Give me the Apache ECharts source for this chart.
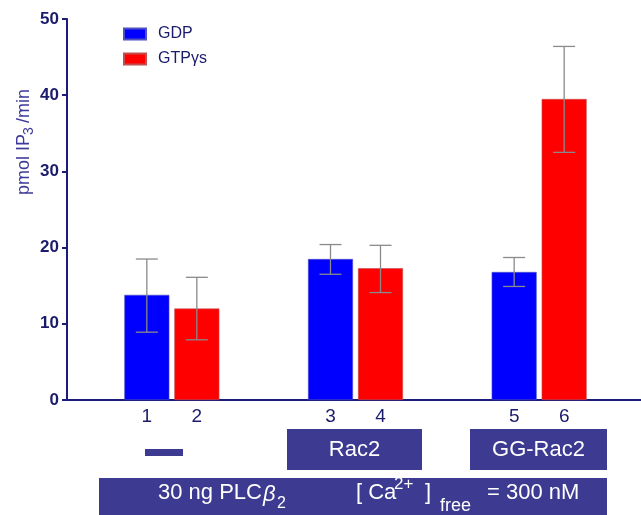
<!DOCTYPE html>
<html>
<head>
<meta charset="utf-8">
<script src="https://cdn.jsdelivr.net/npm/echarts@6/dist/echarts.min.js"></script>
<style>html,body{margin:0;padding:0;background:#fff}#c{width:641px;height:515px}</style>
</head>
<body>
<div id="c"></div>
<script>
const categories = ['PLCβ2', 'Rac2', 'GG-Rac2'];
const seriesNames = ['GDP', 'GTPγs'];
const gdpValues = [13.8, 18.5, 16.8];
const gdpErrLow = [8.9, 16.5, 14.9];
const gdpErrHigh = [18.5, 20.4, 18.7];
const gtpValues = [12.0, 17.3, 39.5];
const gtpErrLow = [7.9, 14.1, 32.5];
const gtpErrHigh = [16.1, 20.3, 46.4];
const gdpLaneLabels = ['1', '3', '5'];
const gtpLaneLabels = ['2', '4', '6'];
const yTicks = [0, 10, 20, 30, 40, 50];
const groupLabels = ['Rac2', 'GG-Rac2'];

const FONT = '"Liberation Sans", Arial, sans-serif';
const NAVY = '#1b1b6b';
const BOX = '#3d3a91';
const BAR_W = 45, BAR_GAP = 5;
const OFF = (BAR_W + BAR_GAP) / 2;

function errSeries(low, high, sign) {
  return {
    type: 'custom',
    xAxisIndex: 0, yAxisIndex: 0,
    z: 5,
    silent: true,
    data: low.map((l, i) => [i, l, high[i]]),
    encode: { x: 0, y: [1, 2] },
    renderItem: function (params, api) {
      const x = api.coord([api.value(0), 0])[0] + sign * OFF;
      const yl = api.coord([api.value(0), api.value(1)])[1];
      const yh = api.coord([api.value(0), api.value(2)])[1];
      const st = { stroke: '#8a8a8a', lineWidth: 1.3 };
      return {
        type: 'group',
        children: [
          { type: 'line', shape: { x1: x, y1: yl, x2: x, y2: yh }, style: st },
          { type: 'line', shape: { x1: x - 11, y1: yh, x2: x + 11, y2: yh }, style: st },
          { type: 'line', shape: { x1: x - 11, y1: yl, x2: x + 11, y2: yl }, style: st }
        ]
      };
    }
  };
}

function laneLabel(arr) {
  return {
    show: true, position: 'bottom', distance: 7,
    color: NAVY, fontSize: 19, fontFamily: FONT,
    formatter: p => arr[p.dataIndex]
  };
}

const txt = (x, y, s, size, extra) => ({
  type: 'text', x: x, y: y, z: 20,
  style: Object.assign({ text: s, fill: '#fff', font: size + 'px ' + FONT, align: 'left', verticalAlign: 'middle' }, extra || {})
});

const chart = echarts.init(document.getElementById('c'), null, { renderer: 'canvas' });
chart.setOption({
  animation: false,
  backgroundColor: '#fff',
  grid: [
    { left: 80, right: 10, top: 19, bottom: 115 },
    { left: 67, right: 0, top: 19, bottom: 115 }
  ],
  legend: {
    data: seriesNames,
    orient: 'vertical',
    left: 123, top: 26,
    itemWidth: 22, itemHeight: 11, itemGap: 9,
    icon: 'rect',
    padding: 0,
    textStyle: { color: NAVY, fontSize: 16, fontFamily: FONT, padding: [0, 0, 0, 7], lineHeight: 16 }
  },
  xAxis: [
    { type: 'category', gridIndex: 0, data: categories, show: false },
    { type: 'value', gridIndex: 1, min: 0, max: 1,
      axisLine: { show: true, lineStyle: { color: '#1c1c7a', width: 2 } },
      axisTick: { show: false }, axisLabel: { show: false }, splitLine: { show: false } }
  ],
  yAxis: [
    { type: 'value', gridIndex: 0, min: 0, max: 50, show: false },
    { type: 'value', gridIndex: 1, min: 0, max: 50, interval: 10,
      axisLine: { show: true, lineStyle: { color: '#1c1c7a', width: 2 } },
      axisTick: { show: true, length: 5, lineStyle: { color: '#1c1c7a', width: 2 } },
      axisLabel: { color: NAVY, fontSize: 17, fontWeight: 'bold', fontFamily: FONT, margin: 8,
        formatter: v => yTicks.indexOf(v) >= 0 ? String(v) : '' },
      splitLine: { show: false } }
  ],
  series: [
    { name: seriesNames[0], type: 'bar', xAxisIndex: 0, yAxisIndex: 0, data: gdpValues,
      barWidth: BAR_W, barGap: (BAR_GAP / BAR_W * 100) + '%',
      itemStyle: { color: '#0000ff', borderColor: '#5050c0', borderWidth: 0.6 },
      label: laneLabel(gdpLaneLabels) },
    { name: seriesNames[1], type: 'bar', xAxisIndex: 0, yAxisIndex: 0, data: gtpValues,
      barWidth: BAR_W,
      itemStyle: { color: '#ff0000', borderColor: '#c05050', borderWidth: 0.6 },
      label: laneLabel(gtpLaneLabels) },
    errSeries(gdpErrLow, gdpErrHigh, -1),
    errSeries(gtpErrLow, gtpErrHigh, 1)
  ],
  graphic: [
    { type: 'group', x: 24, y: 143, rotation: Math.PI / 2, z: 20,
      children: [
        { type: 'text', x: -52, y: 0, style: { text: 'pmol IP', fill: '#3d3a99', font: '18px ' + FONT, align: 'left', verticalAlign: 'middle' } },
        { type: 'text', x: 8, y: 5, style: { text: '3', fill: '#3d3a99', font: '14px ' + FONT, align: 'left', verticalAlign: 'middle' } },
        { type: 'text', x: 15, y: 0, style: { text: ' /min', fill: '#3d3a99', font: '18px ' + FONT, align: 'left', verticalAlign: 'middle' } }
      ] },
    { type: 'rect', shape: { x: 145, y: 449, width: 38, height: 7 }, style: { fill: BOX }, z: 10 },
    { type: 'rect', shape: { x: 287, y: 429, width: 135, height: 41 }, style: { fill: BOX }, z: 10 },
    txt(354.5, 450, groupLabels[0], 22, { align: 'center' }),
    { type: 'rect', shape: { x: 470, y: 429, width: 137, height: 41 }, style: { fill: BOX }, z: 10 },
    txt(538.5, 450, groupLabels[1], 22, { align: 'center' }),
    { type: 'rect', shape: { x: 99, y: 478, width: 508, height: 40 }, style: { fill: BOX }, z: 10 },
    txt(158, 493, '30 ng PLC', 22),
    txt(263, 495, 'β', 22, { font: 'italic 22px ' + FONT }),
    txt(277, 504, '2', 16),
    txt(356, 493, '[ Ca', 22),
    txt(394, 484, '2+', 17),
    txt(425, 493, ']', 22),
    txt(440, 506, 'free', 18),
    txt(487, 493, '= 300 nM', 22)
  ]
});
</script>
</body>
</html>
